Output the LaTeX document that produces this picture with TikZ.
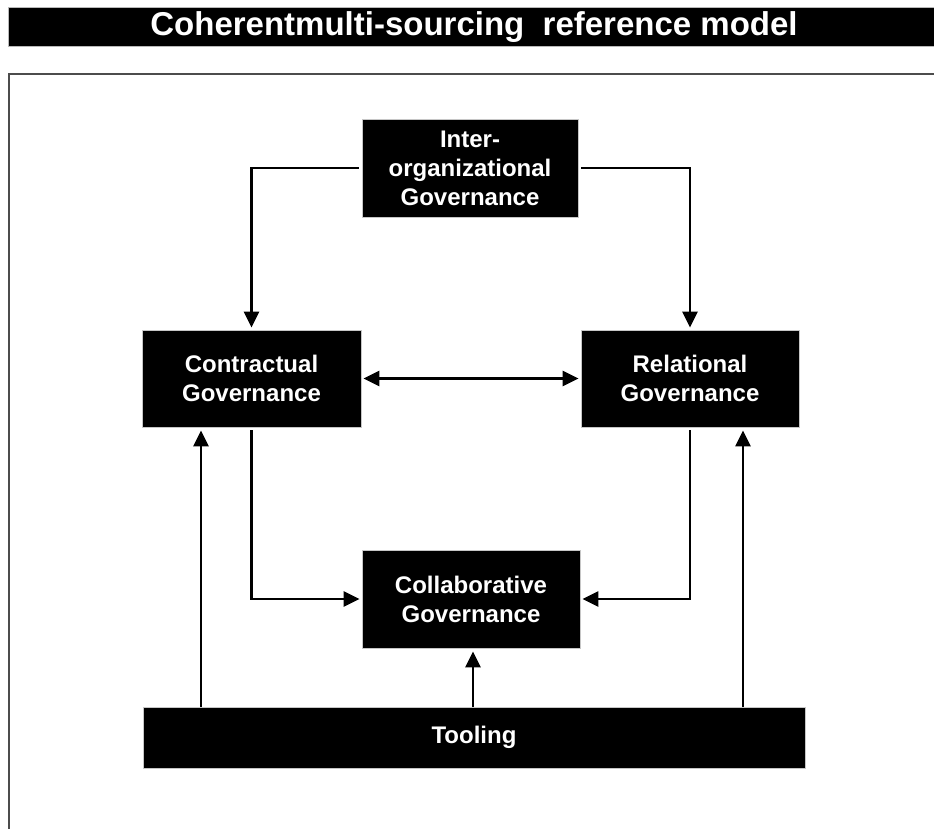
\documentclass[tikz,border=0pt]{standalone}
\usepackage{fontspec}
\setmainfont{Liberation Sans}
\usetikzlibrary{arrows.meta}
\begin{document}
\begin{tikzpicture}[x=1pt,y=-1pt,
  box/.style={fill=black,draw=gray!45,line width=0.8pt,text=white,
    font=\bfseries\fontsize{24}{29}\selectfont,align=center,inner sep=0pt},
  arr/.style={line width=2.4pt,-{Triangle[length=16pt,width=15pt]}},
  dbl/.style={line width=2.4pt,{Triangle[length=16pt,width=15pt]}-{Triangle[length=16pt,width=15pt]}}]
\useasboundingbox (0,0) rectangle (934,828);
\clip (0,0) rectangle (934,828);
% title bar
\draw[fill=black,draw=gray!55,line width=1pt] (8,7) rectangle (950,46);
\node[text=white,font=\bfseries\fontsize{33}{36}\selectfont,inner sep=0pt] (title) at (474,27) {Coherentmulti-sourcing\ \ reference model};
% frame
\draw[black!70,line width=2pt] (9,74) rectangle (960,860);
% boxes
\node[box,minimum width=216pt,minimum height=98pt] (I) at (470,168) {Inter-\\organizational\\Governance};
\node[box,minimum width=219pt,minimum height=97pt] (C) at (251.5,378.5) {Contractual\\Governance};
\node[box,minimum width=218pt,minimum height=97pt] (R) at (690,378.5) {Relational\\Governance};
\node[box,minimum width=218pt,minimum height=98pt] (L) at (471,599) {Collaborative\\Governance};
\node[box,minimum width=662pt,minimum height=61pt] (T) at (474,737.5) {Tooling};
% connectors
\draw[arr,shorten <=3pt,shorten >=2pt] (I.west) -| (C.north);
\draw[arr,shorten <=3pt,shorten >=2pt] (I.east) -| (R.north);
\draw[dbl,shorten <=2pt,shorten >=2pt] (C.east) -- (R.west);
\draw[arr,shorten <=3pt,shorten >=2pt] (C.south) |- (L.west);
\draw[arr,shorten <=3pt,shorten >=2pt] (R.south) |- (L.east);
\coordinate (x1) at (201,0);
\coordinate (x2) at (473,0);
\coordinate (x3) at (743,0);
\draw[arr,shorten >=3pt] (T.north -| x1) -- (C.south -| x1);
\draw[arr,shorten >=3pt] (T.north -| x2) -- (L.south -| x2);
\draw[arr,shorten >=3pt] (T.north -| x3) -- (R.south -| x3);
\end{tikzpicture}
\end{document}
